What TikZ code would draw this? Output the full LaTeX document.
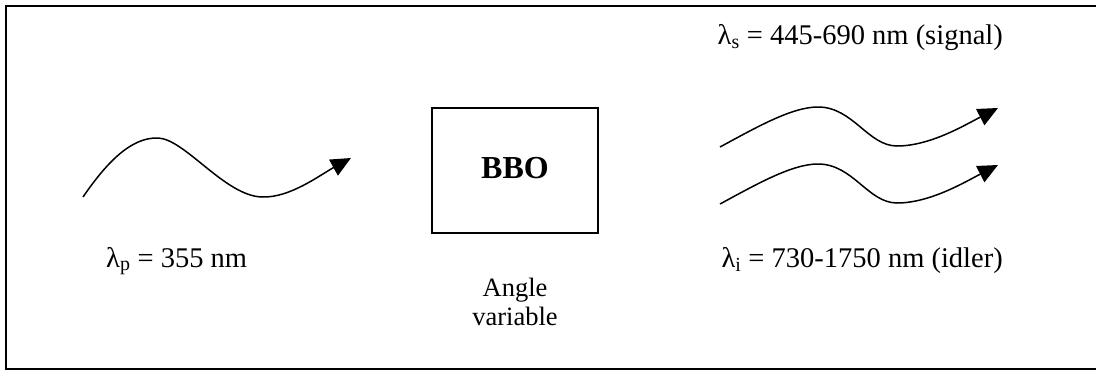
\documentclass[tikz,border=0pt]{standalone}
\usepackage{fontspec}
\setmainfont{Liberation Serif}
\usetikzlibrary{arrows.meta}
\tikzset{
  frame/.style={line width=2.4pt},
  crystal/.style={draw, line width=2pt, minimum width=166pt, minimum height=125pt, inner sep=0pt},
  wave/.style={line width=1.5pt, -{Triangle[length=20pt,width=18pt]}},
  lbl/.style={font=\fontsize{28.5}{32}\selectfont, inner sep=0pt},
  note/.style={font=\fontsize{26.5}{29}\selectfont, inner sep=0pt, align=center},
  bold/.style={font=\fontsize{32}{36}\selectfont\bfseries, inner sep=0pt}
}
\begin{document}
\begin{tikzpicture}[x=1pt,y=1pt]
\useasboundingbox (0,0) rectangle (1096,-372);
% frame (open on the right)
\draw[frame] (1096,-6) -- (6,-6) -- (6,-369) -- (1096,-369);
% crystal
\node[crystal] (bbo) at (515,-170.5) {};
\node[bold] (bbotext) at (515,-168) {BBO};
\node[note, anchor=base] (angle) at (515,-325) {Angle\\variable};
% pump wave
\coordinate (p0) at (83,-197);
\coordinate (p1) at (351,-158);
\draw[wave] (p0) .. controls (105,-165) and (130,-137) .. (158,-138)
  .. controls (185,-139) and (225,-196) .. (262,-197)
  .. controls (290,-198) and (320,-175) .. (p1);
\node[lbl, anchor=base west] (pump) at (106,-267) {λ\textsubscript{p} = 355 nm};
% signal wave
\coordinate (s0) at (720,-147);
\coordinate (s1) at (998,-108);
\draw[wave] (s0) .. controls (757,-127) and (792,-107) .. (818,-107)
  .. controls (853,-107) and (868,-146) .. (897,-146)
  .. controls (930,-146) and (965,-125) .. (s1);
% idler wave
\coordinate (i0) at (720,-204);
\coordinate (i1) at (998,-165);
\draw[wave] (i0) .. controls (757,-184) and (792,-164) .. (818,-164)
  .. controls (853,-164) and (868,-203) .. (897,-203)
  .. controls (930,-203) and (965,-182) .. (i1);
\node[lbl, anchor=base east] (signal) at (1003,-45) {λ\textsubscript{s} = 445-690 nm (signal)};
\node[lbl, anchor=base east] (idler) at (1003,-267) {λ\textsubscript{i} = 730-1750 nm (idler)};
\end{tikzpicture}
\end{document}
